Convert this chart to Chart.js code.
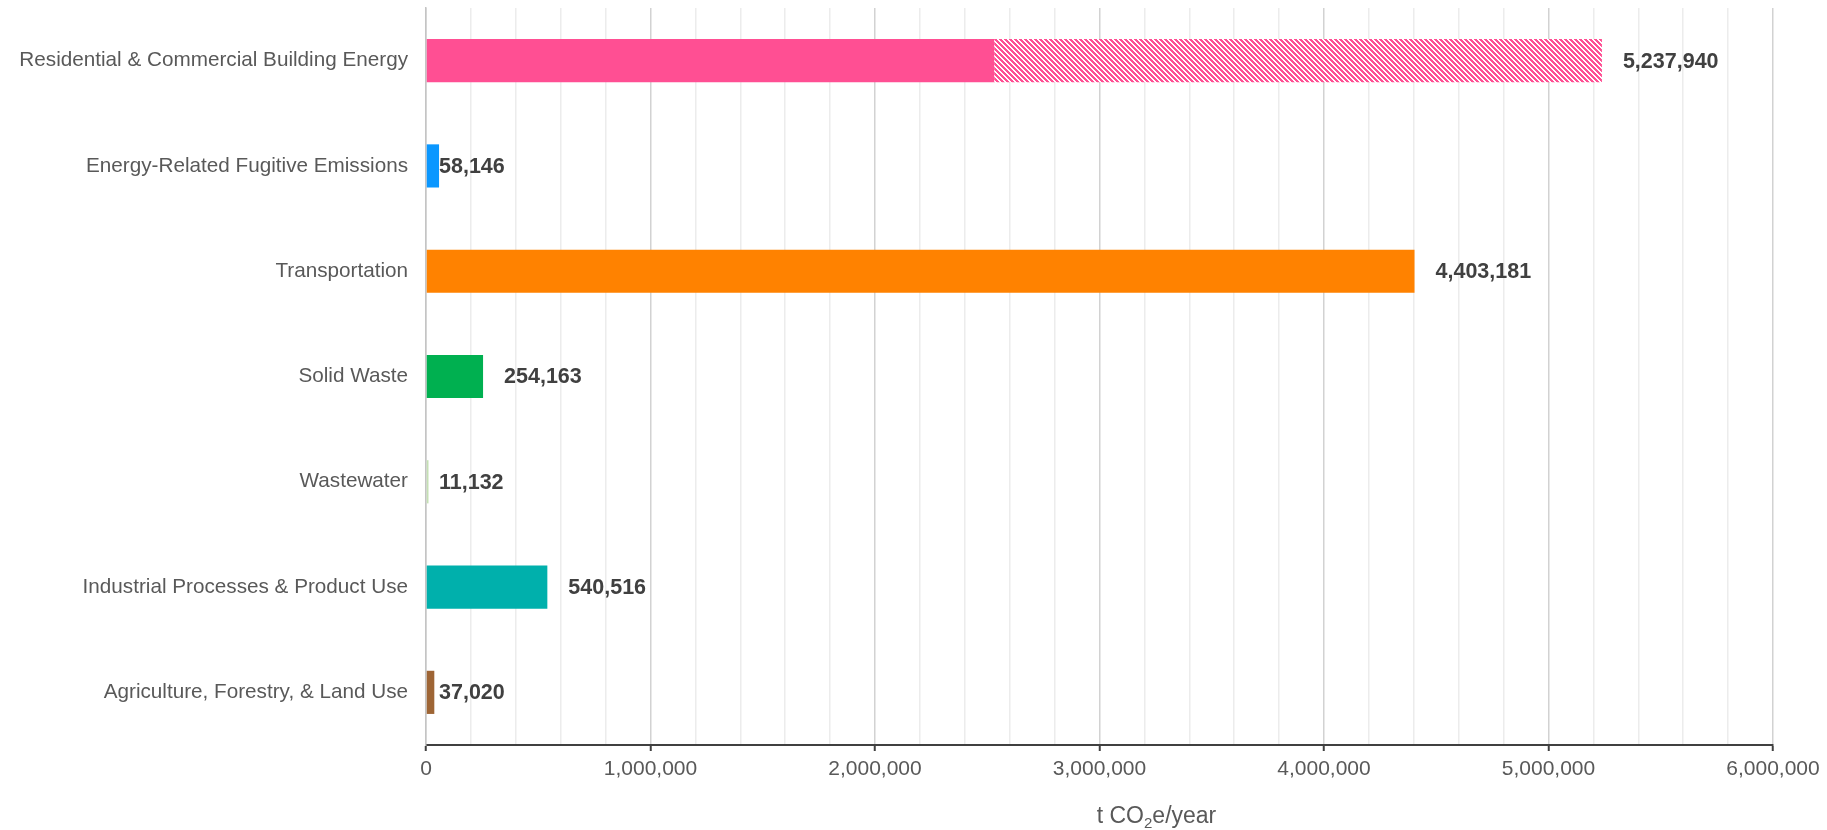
<!DOCTYPE html>
<html>
<head>
<meta charset="utf-8">
<script src="https://cdn.jsdelivr.net/npm/chart.js@4/dist/chart.umd.min.js"></script>
<style>
  html, body { margin: 0; padding: 0; background: #fff; }
  #wrap { width: 1827px; height: 830px; position: relative; }
</style>
</head>
<body>
<div id="wrap"><canvas id="emissoesChart"></canvas></div>
<script>
// dados
const categorias = [
    'Residential & Commercial Building Energy',
    'Energy-Related Fugitive Emissions',
    'Transportation',
    'Solid Waste',
    'Wastewater',
    'Industrial Processes & Product Use',
    'Agriculture, Forestry, & Land Use'
];
const totais = [5237940, 58146, 4403181, 254163, 11132, 540516, 37020];
// parte sólida da barra; o resto (só na primeira) é hachurado
const parteSolida = [2531000, 58146, 4403181, 254163, 11132, 540516, 37020];
const parteHachurada = totais.map((t, i) => t - parteSolida[i]);
const cores = ['#FF4F93', '#0A97FF', '#FF8200', '#00B050', '#C5E0B4', '#00B0AC', '#9E6535'];
const ticksEixoX = [0, 1000000, 2000000, 3000000, 4000000, 5000000, 6000000];

const FONTE = "'Liberation Sans', Arial, sans-serif";

function criarHachura(cor) {
    // listras diagonais "\" com período de 5px, 3px coloridos
    const c = document.createElement('canvas');
    c.width = 5; c.height = 5;
    const g = c.getContext('2d');
    g.fillStyle = '#fff';
    g.fillRect(0, 0, 5, 5);
    g.fillStyle = cor;
    for (let y = 0; y < 5; y++) {
        for (let x = 0; x < 5; x++) {
            if (((x - y) % 5 + 5) % 5 < 3) g.fillRect(x, y, 1, 1);
        }
    }
    return g.createPattern(c, 'repeat');
}

const rotulosValores = {
    id: 'rotulosValores',
    afterDatasetsDraw(chart) {
        const { ctx, scales: { x } } = chart;
        const meta = chart.getDatasetMeta(0);
        const zeroX = x.getPixelForValue(0);
        ctx.save();
        ctx.font = `bold 21.5px ${FONTE}`;
        ctx.fillStyle = '#404040';
        ctx.textAlign = 'left';
        ctx.textBaseline = 'middle';
        totais.forEach((t, i) => {
            const fim = x.getPixelForValue(t);
            // barras pequenas: rótulo encostado no início
            const px = t < 100000 ? zeroX + 13 : fim + 21;
            ctx.fillText(t.toLocaleString('en-US'), px, meta.data[i].y + 1);
        });
        ctx.restore();
    }
};

const tituloEixo = {
    id: 'tituloEixo',
    afterDraw(chart) {
        const { ctx, chartArea } = chart;
        ctx.save();
        ctx.fillStyle = '#595959';
        ctx.textBaseline = 'alphabetic';
        const grande = `23px ${FONTE}`, pequeno = `15px ${FONTE}`;
        const partes = [['t CO', grande, 0], ['2', pequeno, 5], ['e/year', grande, 0]];
        let largura = 0;
        partes.forEach(([t, f]) => { ctx.font = f; largura += ctx.measureText(t).width; });
        let px = (chartArea.left + chartArea.right) / 2 + 57 - largura / 2;
        const base = 823;
        partes.forEach(([t, f, dy]) => {
            ctx.font = f;
            ctx.fillText(t, px, base + dy);
            px += ctx.measureText(t).width;
        });
        ctx.restore();
    }
};

const ehMaior = v => v % 1000000 === 0;

new Chart(document.getElementById('emissoesChart'), {
    type: 'bar',
    data: {
        labels: categorias,
        datasets: [
            {
                label: 'Sólido',
                data: parteSolida,
                backgroundColor: cores,
                borderWidth: 0,
                barPercentage: 0.41,
                categoryPercentage: 1
            },
            {
                label: 'Hachurado',
                data: parteHachurada,
                backgroundColor: cores.map(c => criarHachura(c)),
                borderWidth: 0,
                barPercentage: 0.41,
                categoryPercentage: 1
            }
        ]
    },
    options: {
        indexAxis: 'y',
        responsive: true,
        maintainAspectRatio: false,
        animation: false,
        layout: { padding: { top: 8, right: 54, bottom: 0, left: 0 } },
        plugins: {
            legend: { display: false },
            tooltip: { enabled: false }
        },
        scales: {
            x: {
                stacked: true,
                min: 0,
                max: 6000000,
                afterBuildTicks(scale) {
                    const t = [];
                    for (let v = 0; v <= 6000000; v += 200000) t.push({ value: v });
                    scale.ticks = t;
                },
                afterFit(scale) { scale.height = 85; },
                grid: {
                    color: c => (c.tick && ehMaior(c.tick.value)) ? '#d2d2d2' : '#ececec',
                    lineWidth: 1.5,
                    drawTicks: true,
                    tickLength: 6,
                    tickColor: c => (c.tick && ehMaior(c.tick.value)) ? '#404040' : 'rgba(0,0,0,0)',
                    tickWidth: 2
                },
                border: { display: true, color: '#404040', width: 2 },
                ticks: {
                    autoSkip: false,
                    maxRotation: 0,
                    padding: 6,
                    color: '#595959',
                    font: { family: FONTE, size: 21 },
                    callback: v => ticksEixoX.includes(v) ? v.toLocaleString('en-US') : ''
                }
            },
            y: {
                stacked: true,
                afterFit(scale) {
                    scale.width = 426;
                    scale.paddingTop = 0;
                    scale.paddingBottom = 0;
                },
                grid: { display: false, drawTicks: false },
                border: { display: true, color: '#c4c4c4', width: 1.5 },
                ticks: {
                    padding: 18,
                    color: '#595959',
                    font: { family: FONTE, size: 20.7 }
                }
            }
        }
    },
    plugins: [rotulosValores, tituloEixo]
});
</script>
</body>
</html>
